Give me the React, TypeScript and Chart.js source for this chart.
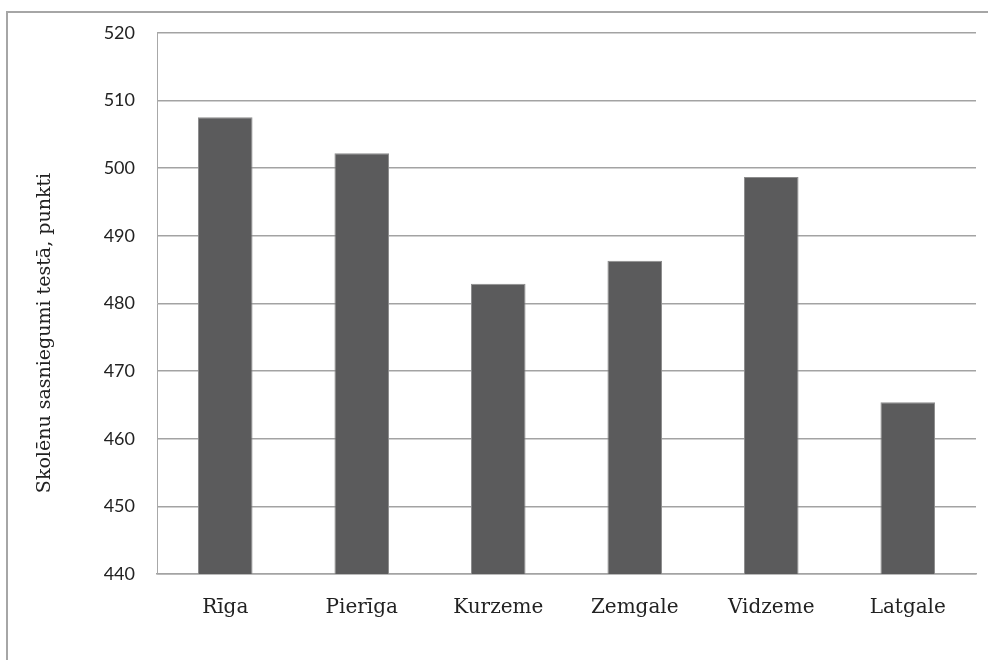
import React, { useEffect, useRef } from "react";
import { Chart, registerables } from "chart.js";

Chart.register(...registerables);

const categories = ["Rīga", "Pierīga", "Kurzeme", "Zemgale", "Vidzeme", "Latgale"];
const scores = [507.5, 502.2, 482.9, 486.3, 498.7, 465.4];
const yMin = 440;
const yMax = 520;
const yStep = 10;
const yTitle = "Skolēnu sasniegumi testā, punkti";

const framePlugin = {
  id: "frameAndTitle",
  beforeDraw(chart: any) {
    const ctx = chart.ctx;
    ctx.save();
    ctx.fillStyle = "#fff";
    ctx.fillRect(0, 0, chart.width, chart.height);
    ctx.strokeStyle = "#a6a6a6";
    ctx.lineWidth = 2;
    ctx.beginPath();
    ctx.moveTo(7, chart.height + 2);
    ctx.lineTo(7, 12);
    ctx.lineTo(chart.width + 2, 12);
    ctx.stroke();
    ctx.restore();
  },
  afterDraw(chart: any) {
    const ctx = chart.ctx;
    ctx.save();
    ctx.translate(45, 333);
    ctx.rotate(-Math.PI / 2);
    ctx.font = "19px 'DejaVu Serif'";
    ctx.fillStyle = "#222";
    ctx.textAlign = "center";
    ctx.textBaseline = "middle";
    ctx.fillText(yTitle, 0, 0);
    ctx.restore();
  },
};

export default function App() {
  const ref = useRef<HTMLCanvasElement>(null);
  useEffect(() => {
    if (!ref.current) return;
    const chart = new Chart(ref.current, {
      type: "bar",
      data: {
        labels: categories,
        datasets: [
          {
            data: scores,
            backgroundColor: "#5b5b5c",
            borderColor: "#8c8c8c",
            borderWidth: 1,
            categoryPercentage: 1,
            barPercentage: 0.4,
          },
        ],
      },
      options: {
        animation: false,
        responsive: false,
        layout: { padding: { left: 0, top: 30, right: 12, bottom: 0 } },
        plugins: { legend: { display: false }, tooltip: { enabled: false } },
        scales: {
          x: {
            grid: { display: false, drawTicks: false },
            border: { display: true, color: "#a3a3a3", width: 1.5 },
            ticks: {
              padding: 22,
              color: "#222",
              font: { family: "'DejaVu Serif'", size: 20 },
            },
            afterFit(scale: any) {
              scale.height = 86;
            },
          },
          y: {
            min: yMin,
            max: yMax,
            grid: { color: "#a3a3a3", lineWidth: 1.5, drawTicks: false },
            border: { display: true, color: "#a8a8a8", width: 1 },
            ticks: {
              stepSize: yStep,
              padding: 22,
              color: "#222",
              font: { family: "Lato", size: 18 },
            },
            afterFit(scale: any) {
              scale.width = 157;
            },
          },
        },
      },
      plugins: [framePlugin],
    });
    return () => chart.destroy();
  }, []);
  return (
    <div style={{ position: "fixed", left: 0, top: 0, width: 988, height: 660 }}>
      <canvas ref={ref} width={988} height={660} style={{ display: "block" }} />
    </div>
  );
}
